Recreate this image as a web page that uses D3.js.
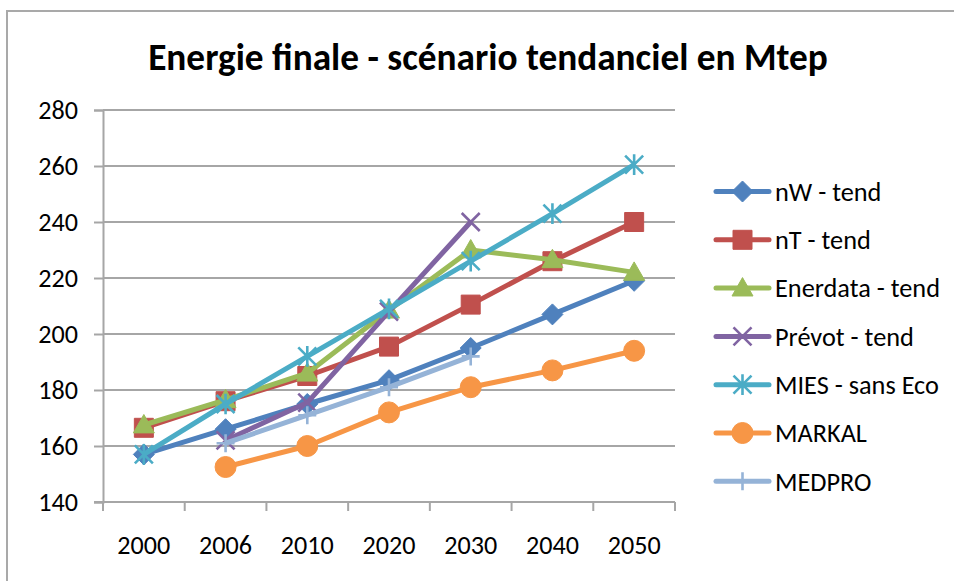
<!DOCTYPE html>
<html><head><meta charset="utf-8">
<script src="https://cdn.jsdelivr.net/npm/d3@7"></script>
<style>
html,body{margin:0;padding:0;background:#fff;}
text{font-family:Carlito, Lato, "Open Sans", sans-serif;fill:#000;}
</style></head>
<body>
<svg id="c" width="954" height="581"></svg>
<script>
const title = "Energie finale - scénario tendanciel en Mtep";
const years = ["2000","2006","2010","2020","2030","2040","2050"];
const yTicks = [140,160,180,200,220,240,260,280];
const seriesNames = ["nW - tend","nT - tend","Enerdata - tend","Prévot - tend","MIES - sans Eco","MARKAL","MEDPRO"];
const nW       = [157, 166, 175, 183.5, 195, 207, 219];
const nT       = [166.5, 176, 185, 195.5, 210.5, 226, 240];
const enerdata = [167.5, 176.5, 186, 208.5, 230, 226.5, 222];
const prevot   = [null, 162, 175.5, 208, 240, null, null];
const mies     = [157, 175, 192, 209, 226, 243, 260.5];
const markal   = [null, 152.5, 160, 172, 181, 187, 194];
const medpro   = [null, 161, 171, 181, 192, null, null];
const colors   = ["#4F81BD","#C0504D","#9BBB59","#8064A2","#4BACC6","#F79646","#95B3D7"];
const markers  = ["diamond","square","triangle","x","star","circle","plus"];
const values = [nW, nT, enerdata, prevot, mies, markal, medpro];

const svg = d3.select("#c");
const L = 103, R = 675, T = 110, B = 502;
const x = d3.scaleBand().domain(years).range([L, R]);
const y = d3.scaleLinear().domain([140, 280]).range([B, T]);
const grid = "#a6a6a6";

// outer border
svg.append("path").attr("d", `M7,581 L7,11 L954,11`).attr("fill","none").attr("stroke","#a9a9a9").attr("stroke-width",2);

// title
const tt = svg.append("text").attr("x", 488).attr("y", 70).attr("text-anchor","middle")
  .style("font-weight","bold").style("font-size","32px").text(title);
{ const w = tt.node().getComputedTextLength(); tt.style("font-size", (32*680/w).toFixed(2)+"px"); }

// gridlines
svg.append("g").selectAll("line").data(yTicks).join("line")
  .attr("x1", L).attr("x2", R).attr("y1", d=>y(d)).attr("y2", d=>y(d))
  .attr("stroke", grid).attr("stroke-width", 2);

// measure tick font size: "2000" should be ~53px wide
const probe = svg.append("text").style("font-size","22px").text("2000");
const tickFs = 22*53/probe.node().getComputedTextLength();
probe.remove();

// y axis
const ya = svg.append("g").attr("transform",`translate(${L},0)`)
  .call(d3.axisLeft(y).tickValues(yTicks).tickSize(9).tickPadding(16).tickFormat(d3.format("d")));
ya.select(".domain").attr("stroke", grid).attr("stroke-width",2);
ya.selectAll(".tick line").attr("stroke", grid).attr("stroke-width",2);
ya.selectAll("text").style("font-size", tickFs+"px").style("font-family","Carlito, Lato, 'Open Sans', sans-serif").attr("fill","#000");

// x axis
const xa = svg.append("g").attr("transform",`translate(0,${B})`)
  .call(d3.axisBottom(x).tickSize(0).tickPadding(33));
xa.select(".domain").attr("stroke", grid).attr("stroke-width",2).attr("d", `M${L-9},0H${R}`);
xa.selectAll("text").style("font-size", tickFs+"px").style("font-family","Carlito, Lato, 'Open Sans', sans-serif").attr("fill","#000");
const bounds = years.map(d=>x(d)).concat([R]);
xa.append("g").selectAll("line").data(bounds).join("line")
  .attr("x1", d=>d).attr("x2", d=>d).attr("y1",0).attr("y2",9)
  .attr("stroke", grid).attr("stroke-width",2);

const cx = d => x(d) + x.bandwidth()/2;

// custom symbol types
const symTypes = {
  diamond: {draw(ctx, s){ const r = Math.sqrt(s)/2; ctx.moveTo(0,-r); ctx.lineTo(r,0); ctx.lineTo(0,r); ctx.lineTo(-r,0); ctx.closePath(); }},
  square: {draw(ctx, s){ const r = Math.sqrt(s)/2; ctx.rect(-r,-r,2*r,2*r); }},
  triangle: {draw(ctx, s){ const r = Math.sqrt(s)/2; ctx.moveTo(0,-r); ctx.lineTo(r,r*0.75); ctx.lineTo(-r,r*0.75); ctx.closePath(); }},
  circle: {draw(ctx, s){ const r = Math.sqrt(s)/2; ctx.moveTo(r,0); ctx.arc(0,0,r,0,2*Math.PI); }},
  x: {draw(ctx, s){ const r = Math.sqrt(s)/2; ctx.moveTo(-r,-r); ctx.lineTo(r,r); ctx.moveTo(r,-r); ctx.lineTo(-r,r); }},
  star: {draw(ctx, s){ const r = Math.sqrt(s)/2; ctx.moveTo(-r,-r); ctx.lineTo(r,r); ctx.moveTo(r,-r); ctx.lineTo(-r,r); ctx.moveTo(0,-r*1.15); ctx.lineTo(0,r*1.15); }},
  plus: {draw(ctx, s){ const r = Math.sqrt(s)/2; ctx.moveTo(-r,0); ctx.lineTo(r,0); ctx.moveTo(0,-r); ctx.lineTo(0,r); }}
};
const symSize = {diamond: 21, square: 19, triangle: 21, circle: 21, x: 18, star: 18, plus: 18};
const filled = m => !["x","star","plus"].includes(m);
function drawMarker(g, m, col){
  const p = d3.symbol().type(symTypes[m]).size(symSize[m]*symSize[m])();
  const el = g.append("path").attr("d", p);
  if (filled(m)) el.attr("fill", col).attr("stroke", col).attr("stroke-width", 1);
  else el.attr("fill","none").attr("stroke", col).attr("stroke-width", 2.6);
}

const line = d3.line().defined(d=>d.v!=null).x(d=>cx(d.year)).y(d=>y(d.v));
const plot = svg.append("g");
values.forEach((vals, i) => {
  const pts = years.map((yr, j) => ({year: yr, v: vals[j]}));
  const g = plot.append("g");
  g.append("path").attr("d", line(pts)).attr("fill","none").attr("stroke", colors[i])
    .attr("stroke-width", 5).attr("stroke-linejoin","round");
  pts.filter(d=>d.v!=null).forEach(d => {
    const mg = g.append("g").attr("transform", `translate(${cx(d.year)},${y(d.v)})`);
    drawMarker(mg, markers[i], colors[i]);
  });
});

// legend
const lg = svg.append("g");
const legY0 = 191.5, legDy = 48.3;
seriesNames.forEach((n, i) => {
  const g = lg.append("g").attr("transform", `translate(0,${legY0 + i*legDy})`);
  g.append("line").attr("x1", 716).attr("x2", 769).attr("y1",0).attr("y2",0)
    .attr("stroke", colors[i]).attr("stroke-width",5).attr("stroke-linecap","round");
  const mg = g.append("g").attr("transform","translate(742.5,0)");
  drawMarker(mg, markers[i], colors[i]);
  g.append("text").attr("class","lt").attr("x", 775).attr("y", 0).attr("dy","0.35em")
    .style("font-size","22px").text(n);
});
{ const w = lg.selectAll("text.lt").nodes()[2].getComputedTextLength();
  const fs = 22*165/w; lg.selectAll("text.lt").style("font-size", fs.toFixed(2)+"px"); }
</script>
</body></html>
